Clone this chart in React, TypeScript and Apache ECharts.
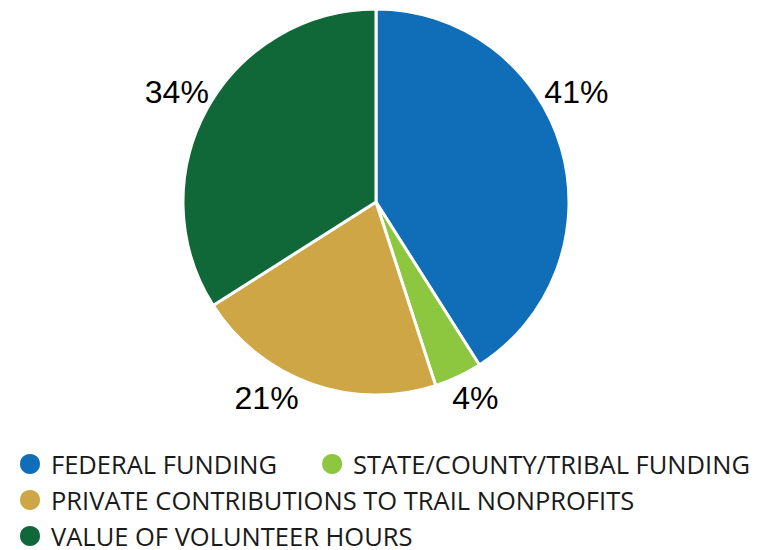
import React, { useEffect, useRef } from "react";
import * as echarts from "echarts";

const categories = [
  "FEDERAL FUNDING",
  "STATE/COUNTY/TRIBAL FUNDING",
  "PRIVATE CONTRIBUTIONS TO TRAIL NONPROFITS",
  "VALUE OF VOLUNTEER HOURS",
];
const values = [41, 4, 21, 34];
const colors = ["#0f6eb7", "#8dc63f", "#cfa646", "#106838"];
const legendRows = [[0, 1], [2], [3]];

export default function App() {
  const ref = useRef<HTMLDivElement>(null);
  useEffect(() => {
    document.body.style.margin = "0";
    const chart = echarts.init(ref.current!, undefined, { renderer: "svg" });
    const labelShift = [
      [-22, -56],
      [-11, 21],
      [-7, 14],
      [7, -17],
    ];
    chart.setOption({
      animation: false,
      color: colors,
      legend: legendRows.map((row, i) => ({
        data: row.map((k) => categories[k]),
        left: 13,
        top: 446 + i * 36,
        padding: [5, 5, 0, 5],
        orient: "horizontal",
        icon: "circle",
        itemWidth: 22,
        itemHeight: 22,
        itemGap: 43,
        selectedMode: false,
        textStyle: {
          fontFamily: "Open Sans",
          fontSize: 25.5,
          lineHeight: 22,
          color: "#1a1a1a",
          padding: [0, 0, 0, 5],
        },
      })),
      series: [
        {
          type: "pie",
          center: [376, 202],
          radius: 193,
          startAngle: 90,
          clockwise: true,
          avoidLabelOverlap: false,
          itemStyle: { borderColor: "#ffffff", borderWidth: 3 },
          label: {
            show: true,
            position: "outside",
            formatter: "{c}%",
            fontFamily: "Liberation Sans",
            fontSize: 32,
            color: "#000000",
          },
          labelLine: { show: false, length: 0, length2: 0 },
          labelLayout: (p: any) => ({
            dx: labelShift[p.dataIndex][0],
            dy: labelShift[p.dataIndex][1],
          }),
          emphasis: { disabled: true },
          data: categories.map((name, i) => ({ name, value: values[i] })),
        },
      ],
    });
    return () => chart.dispose();
  }, []);
  return <div ref={ref} style={{ width: 761, height: 550 }} />;
}
